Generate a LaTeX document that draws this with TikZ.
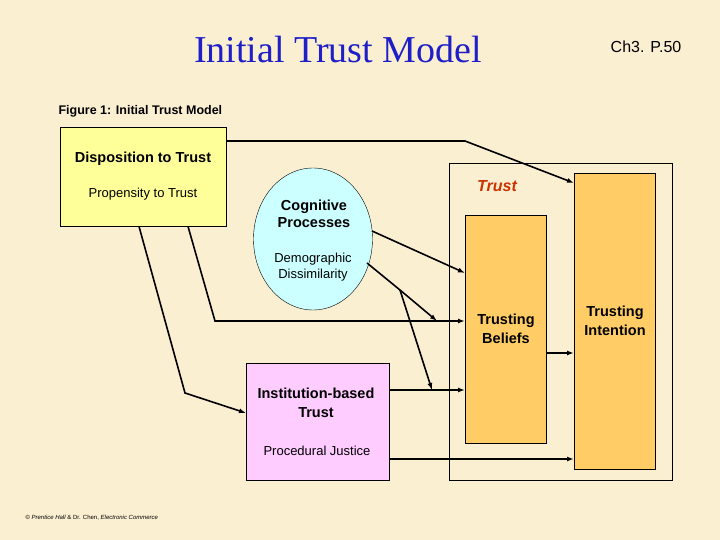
\documentclass[tikz,border=0pt]{standalone}
\usepackage{fontspec}
\setmainfont{Liberation Sans}
\newfontfamily\titlefont{Liberation Serif}
\usetikzlibrary{arrows.meta,shapes.geometric}
\definecolor{paper}{HTML}{FBEFD2}
\definecolor{dispyellow}{HTML}{FFFF99}
\definecolor{cogblue}{HTML}{CCFFFF}
\definecolor{instpink}{HTML}{FFCCFF}
\definecolor{trustorange}{HTML}{FFCC66}
\definecolor{titleblue}{HTML}{1F1FC8}
\definecolor{trustred}{HTML}{CC3300}
\begin{document}
\begin{tikzpicture}[x=1pt,y=-1pt]
        \tikzstyle{box}=[draw, thin, inner sep=0pt, anchor=north west]
        \tikzstyle{link}=[line width=1.6pt, -{Latex[length=7pt,width=5pt]}]
        \fill[paper] (0,0) rectangle (720,540);
        \useasboundingbox (0,0) rectangle (720,540);
        \node[titleblue, font=\titlefont\fontsize{38}{40}\selectfont] (title) at (338,50) {Initial Trust Model};
        \node[font=\fontsize{16}{18}\selectfont] (page) at (646,47) {Ch3. P.50};
        \node[anchor=west, font=\bfseries\fontsize{12.5}{14}\selectfont] (fig) at (55,111) {Figure 1: Initial Trust Model};
        \node[box, fill=dispyellow, minimum width=166pt, minimum height=99pt] (disp) at (60,127) {};
        \node[font=\bfseries\fontsize{14.5}{16}\selectfont] at (143,159) {Disposition to Trust};
        \node[font=\fontsize{13}{15}\selectfont] at (143,194) {Propensity to Trust};
        \node[draw, thin, ellipse, fill=cogblue, minimum width=119pt, minimum height=142pt] (cog) at (313,239) {};
        \node[align=center, font=\bfseries\fontsize{14.5}{17}\selectfont] at (314,214) {Cognitive\\Processes};
        \node[align=center, font=\fontsize{13}{16}\selectfont] at (313,267) {Demographic\\Dissimilarity};
        \node[box, minimum width=223pt, minimum height=317pt] (trust) at (449,163) {};
        \node[font=\bfseries\itshape\fontsize{16}{18}\selectfont, trustred] at (497,186) {Trust};
        \node[box, fill=trustorange, minimum width=81pt, minimum height=228pt] (beliefs) at (465,215) {};
        \node[align=center, font=\bfseries\fontsize{14.5}{19}\selectfont] at (506,329) {Trusting\\Beliefs};
        \node[box, fill=trustorange, minimum width=81pt, minimum height=296pt] (intent) at (574,173) {};
        \node[align=center, font=\bfseries\fontsize{14.5}{19}\selectfont] at (615,321) {Trusting\\Intention};
        \node[box, fill=instpink, minimum width=143pt, minimum height=117pt] (inst) at (246,363) {};
        \node[align=center, font=\bfseries\fontsize{14.5}{19}\selectfont] at (316,403) {Institution-based\\Trust};
        \node[font=\fontsize{13}{15}\selectfont] at (317,451) {Procedural Justice};
        \node[anchor=west, font=\fontsize{6}{7}\selectfont] (foot) at (22,518) {\textcopyright\ \textit{Prentice Hall} \& Dr. Chen, \textit{Electronic Commerce}};
        % connectors
        \coordinate (b1) at (400,290);
        \draw[link] (disp.north east |- 0,141) -- (465,141) -- (intent.north west |- 0,183);
        \draw[link] (372,231) -- (beliefs.west |- 0,273);
        \draw[line width=1.6pt] (367,263) -- (b1);
        \draw[link] (b1) -- (437,321);
        \draw[link] (b1) -- (432,390);
        \draw[link] (disp.south west -| 188,0) -- (215,321) -- (beliefs.west |- 0,321);
        \draw[link] (disp.south west -| 139,0) -- (185,393) -- (inst.west |- 0,413);
        \draw[link] (inst.east |- 0,390) -- (beliefs.west |- 0,390);
        \draw[link] (inst.east |- 0,459) -- (intent.west |- 0,459);
        \draw[link] (beliefs.east |- 0,353) -- (intent.west |- 0,353);
      \end{tikzpicture}
\end{document}
